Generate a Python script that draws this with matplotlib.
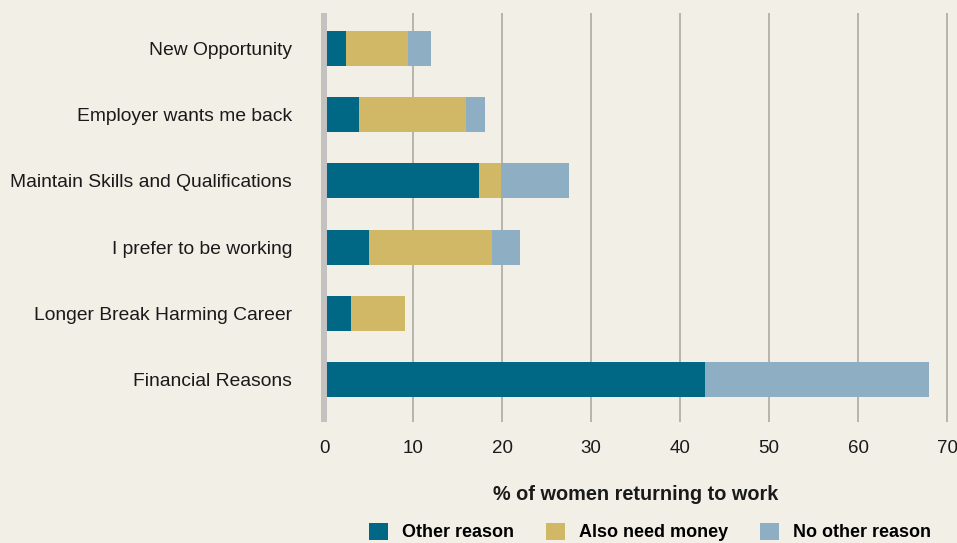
import matplotlib.pyplot as plt
from matplotlib.patches import Patch

plt.rcParams['font.family'] = ['Liberation Sans', 'DejaVu Sans']

reasons = ["New Opportunity", "Employer wants me back",
           "Maintain Skills and Qualifications", "I prefer to be working",
           "Longer Break Harming Career", "Financial Reasons"]
other_reason = [2.5, 3.9, 17.4, 5.0, 3.0, 42.8]
also_money = [6.9, 12.0, 2.5, 13.9, 6.1, 0.0]
no_other = [2.6, 2.2, 7.6, 3.1, 0.0, 25.2]
series_names = ["Other reason", "Also need money", "No other reason"]
colors = ["#006884", "#d1b866", "#8daec3"]
xticks = [0, 10, 20, 30, 40, 50, 60, 70]

bg = "#f2efe7"
fig = plt.figure(figsize=(9.57, 5.43), dpi=100, facecolor=bg)
ax = fig.add_axes([0.3386, 0.2228, 0.6614, 0.7532], facecolor=bg)

ypos = list(range(len(reasons)))
left = [0.0] * len(reasons)
for vals, c in zip([other_reason, also_money, no_other], colors):
    ax.barh(ypos, vals, left=left, height=0.53, color=c, zorder=2)
    left = [a + b for a, b in zip(left, vals)]

ax.set_ylim(5.64, -0.535)
ax.set_xlim(0, 71.1)
ax.set_yticks(ypos)
ax.set_yticklabels(reasons, fontsize=13.9, color="#1a1a1a")
ax.set_xticks(xticks)
ax.set_xticklabels([str(t) for t in xticks], fontsize=13.5, color="#1a1a1a")
ax.tick_params(axis='both', length=0)
ax.tick_params(axis='y', pad=23)
ax.tick_params(axis='x', pad=13)
ax.grid(axis='x', color="#a7a49f", linewidth=1.1, zorder=1)
ax.set_axisbelow(True)
for s in ['top', 'right', 'bottom']:
    ax.spines[s].set_visible(False)
ax.spines['left'].set_color("#c4c2c0")
ax.spines['left'].set_linewidth(4.3)
ax.spines['left'].set_capstyle('butt')
ax.spines['left'].set_zorder(3)

ax.set_xlabel("% of women returning to work", fontsize=14.3, fontweight='bold',
              color="#1a1a1a", labelpad=15)
ax.xaxis.set_label_coords((636 - 324) / 633, -0.155)

handles = [Patch(facecolor=c, edgecolor='none') for c in colors]
fig.legend(handles, series_names, loc='center', bbox_to_anchor=(650 / 957, 1 - 532 / 543),
           ncol=3, frameon=False, prop={'weight': 'bold', 'size': 13},
           handlelength=1.05, handleheight=1.1, handletextpad=0.75, columnspacing=1.8)

fig.savefig("out.png", dpi=100, facecolor=bg)
